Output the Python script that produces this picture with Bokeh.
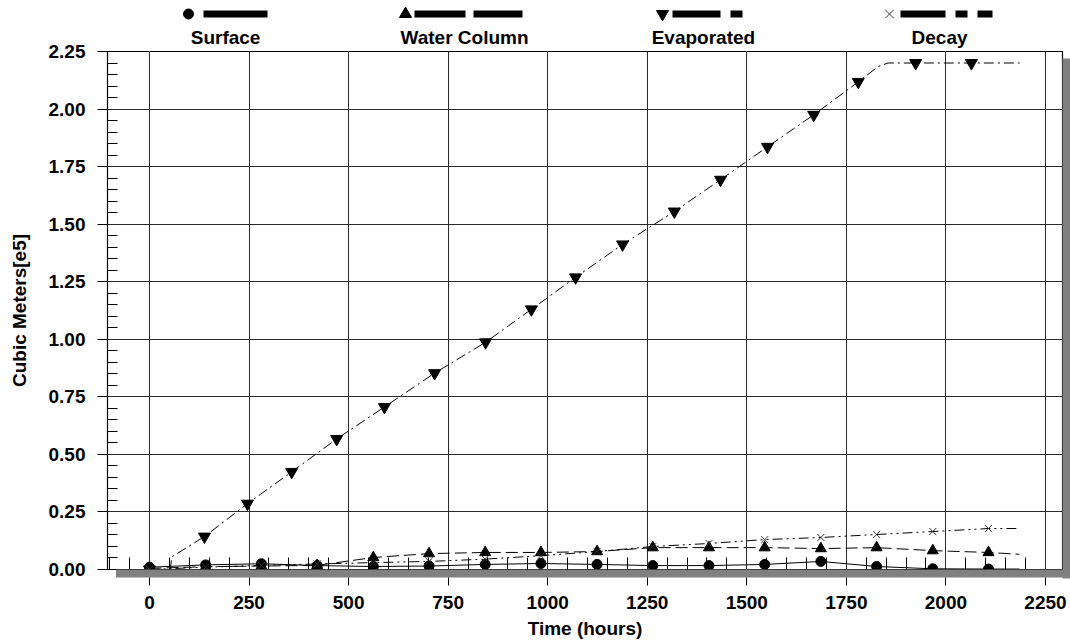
from bokeh.plotting import figure
from bokeh.layouts import column
from bokeh.models import (FixedTicker, Range1d, PrintfTickFormatter, LinearAxis, Grid)
from bokeh.embed import file_html
from bokeh.resources import INLINE

# ---------------- data ----------------
marker_t = [0, 141, 281, 421, 562, 702, 843, 983, 1124, 1264, 1405, 1545, 1686, 1826, 1967, 2107]
surface_v = [0.010, 0.020, 0.025, 0.017, 0.013, 0.015, 0.022, 0.026, 0.022, 0.017, 0.017, 0.022, 0.035, 0.013, 0.003, 0.002]
water_v = [0.005, 0.012, 0.015, 0.018, 0.052, 0.069, 0.074, 0.074, 0.078, 0.095, 0.095, 0.095, 0.091, 0.095, 0.082, 0.074]
decay_v = [0.000, 0.010, 0.018, 0.024, 0.030, 0.035, 0.045, 0.060, 0.078, 0.100, 0.113, 0.130, 0.139, 0.152, 0.165, 0.178]
end_t = 2185
surface_end = 0.002
water_end = 0.066
decay_end = 0.178

evap_t = [0, 138, 246, 357, 470, 590, 716, 844, 959, 1070, 1188, 1318, 1434, 1552, 1668, 1780, 1924, 2064]
evap_v = [0.0, 0.143, 0.286, 0.424, 0.567, 0.706, 0.853, 0.987, 1.130, 1.269, 1.412, 1.555, 1.693, 1.836, 1.975, 2.118, 2.200, 2.200]
evap_line_t = [0, 52, 56, 138, 246, 357, 470, 590, 716, 844, 959, 1070, 1188, 1318, 1434, 1552, 1668, 1780, 1830, 1855, 1924, 2064, 2185]
evap_line_v = [0.0, 0.0, 0.055, 0.143, 0.286, 0.424, 0.567, 0.706, 0.853, 0.987, 1.130, 1.269, 1.412, 1.555, 1.693, 1.836, 1.975, 2.118, 2.185, 2.200, 2.200, 2.200, 2.200]

x_ticks = [0, 250, 500, 750, 1000, 1250, 1500, 1750, 2000, 2250]
y_ticks = [0.0, 0.25, 0.5, 0.75, 1.0, 1.25, 1.5, 1.75, 2.0, 2.25]
legend_labels = ["Surface", "Water Column", "Evaporated", "Decay"]

FONT_NAME = "Liberation Sans"
FS = "19px"
SHADOW = "#808080"

# geometry (pixels)
W, H = 1070, 642
LEG_H = 23
FR_L, FR_R, FR_T, FR_B = 107, 1062, 49, 569
FR_W, FR_H = FR_R - FR_L, FR_B - FR_T

x0, x1 = -105.5, 2292.8
y0, y1 = 0.0, 2.25
px_x = FR_W / (x1 - x0)
px_y = FR_H / (y1 - y0)

# ---------------- legend strip: symbols and line samples (frame aligned with main frame) ----------------
leg = figure(width=W, height=LEG_H, x_range=Range1d(FR_L, FR_R), y_range=Range1d(LEG_H, 0),
             output_backend="svg", toolbar_location=None,
             min_border_left=FR_L, min_border_right=W - FR_R, min_border_top=0, min_border_bottom=0,
             x_axis_location=None, y_axis_location=None)
leg.grid.visible = False
leg.outline_line_color = None

leg.scatter([188], [13.5], marker="circle", size=10, color="black")
leg.scatter([405], [13.5], marker="triangle", size=12, color="black")
leg.scatter([662], [13.5], marker="inverted_triangle", size=12, color="black")
leg.scatter([889], [13.5], marker="x", size=12, line_color="#333333", line_width=1)
leg.segment(x0=[203, 414, 473, 672, 730, 900, 955, 977],
            y0=[13.5] * 8,
            x1=[267, 465, 522, 720, 742, 945, 967, 992],
            y1=[13.5] * 8, line_color="black", line_width=7, line_cap="butt")

# ---------------- main plot ----------------
p = figure(width=W, height=H - LEG_H, x_range=Range1d(x0, x1), y_range=Range1d(y0, y1),
           output_backend="svg", toolbar_location=None,
           x_axis_location=None, y_axis_location=None,
           min_border_left=FR_L, min_border_right=W - FR_R,
           min_border_top=FR_T - LEG_H, min_border_bottom=H - FR_B)
p.outline_line_color = "black"
p.outline_line_width = 1.2


def style_text(ax):
    ax.major_label_text_font = FONT_NAME
    ax.major_label_text_font_style = "bold"
    ax.major_label_text_font_size = FS
    ax.major_label_text_color = "black"
    ax.axis_label_text_font = FONT_NAME
    ax.axis_label_text_font_style = "bold"
    ax.axis_label_text_font_size = FS
    ax.axis_label_text_color = "black"


# legend names, written as labels of a tick-less axis above the frame
legend_px = [225, 464, 703, 939]
legend_pos = [int(round(x0 + (px - FR_L) / px_x)) for px in legend_px]
lax = LinearAxis(ticker=FixedTicker(ticks=legend_pos, minor_ticks=[]),
                 major_label_overrides={pos: lab for pos, lab in zip(legend_pos, legend_labels)})
style_text(lax)
lax.axis_line_color = None
lax.major_tick_line_color = None
lax.minor_tick_line_color = None
lax.major_tick_in = 0
lax.major_tick_out = 0
lax.minor_tick_in = 0
lax.minor_tick_out = 0
lax.major_label_standoff = 4
p.add_layout(lax, "above")

# y axis (left)
yax = LinearAxis(ticker=FixedTicker(ticks=y_ticks,
                                    minor_ticks=[round(i * 0.05, 2) for i in range(46) if i % 5 != 0]),
                 formatter=PrintfTickFormatter(format="%.2f"),
                 axis_label="Cubic Meters[e5]")
style_text(yax)
yax.axis_line_color = "black"
yax.major_tick_line_color = "black"
yax.minor_tick_line_color = "black"
yax.major_tick_in = 0
yax.major_tick_out = 10
yax.minor_tick_in = 10
yax.minor_tick_out = 0
yax.major_label_standoff = 12
yax.axis_label_standoff = 16
p.add_layout(yax, "left")

# bottom drop shadow band + inner minor ticks (first axis below the frame)
shadow_centre_x = x0 + (FR_W / 2 + 8) / px_x
xsh = LinearAxis(ticker=FixedTicker(ticks=[shadow_centre_x],
                                    minor_ticks=[t for t in range(-100, 2300, 50) if t % 250 != 0]),
                 formatter=PrintfTickFormatter(format=""))
xsh.axis_line_color = None
xsh.major_tick_in = 0
xsh.major_tick_out = 8
xsh.major_tick_line_color = SHADOW
xsh.major_tick_line_width = FR_W
xsh.major_tick_line_cap = "butt"
xsh.minor_tick_in = 12
xsh.minor_tick_out = 0
xsh.minor_tick_line_color = "black"
xsh.major_label_text_font_size = "0px"
xsh.major_label_standoff = 0
p.add_layout(xsh, "below")

# real x axis (labels)
xax = LinearAxis(ticker=FixedTicker(ticks=x_ticks, minor_ticks=[]), axis_label="Time (hours)")
style_text(xax)
xax.axis_line_color = None
xax.major_tick_in = 0
xax.major_tick_out = 8
xax.major_tick_line_color = "black"
xax.minor_tick_in = 0
xax.minor_tick_out = 0
xax.major_label_standoff = 10
xax.axis_label_standoff = 6
p.add_layout(xax, "below")

# right drop shadow band
shadow_centre_y = y0 + (FR_H / 2 - 8) / px_y
ysh = LinearAxis(ticker=FixedTicker(ticks=[shadow_centre_y], minor_ticks=[]),
                 formatter=PrintfTickFormatter(format=""))
ysh.axis_line_color = None
ysh.major_tick_in = 0
ysh.major_tick_out = 8
ysh.major_tick_line_color = SHADOW
ysh.major_tick_line_width = FR_H
ysh.major_tick_line_cap = "butt"
ysh.minor_tick_in = 0
ysh.minor_tick_out = 0
ysh.major_label_text_font_size = "0px"
ysh.major_label_standoff = 0
p.add_layout(ysh, "right")

# grid
p.add_layout(Grid(dimension=0, ticker=FixedTicker(ticks=x_ticks),
                  grid_line_color="#2a2a2a", grid_line_width=1))
p.add_layout(Grid(dimension=1, ticker=FixedTicker(ticks=y_ticks),
                  grid_line_color="#2a2a2a", grid_line_width=1))

# series
p.line(marker_t + [end_t], surface_v + [surface_end], line_color="black", line_width=1)
p.line(marker_t + [end_t], water_v + [water_end], line_color="black", line_width=1, line_dash="12 5")
p.line(evap_line_t, evap_line_v, line_color="black", line_width=1, line_dash="10 4 2 4")
p.line(marker_t + [end_t], decay_v + [decay_end], line_color="black", line_width=1, line_dash="10 4 2 4 2 4")

p.scatter(marker_t, surface_v, marker="circle", size=10, color="black")
p.scatter(marker_t, water_v, marker="triangle", size=11, color="black")
p.scatter(evap_t, evap_v, marker="inverted_triangle", size=12, color="black")
p.scatter(marker_t, decay_v, marker="x", size=10, line_color="#333333", line_width=1)

layout = column(leg, p, spacing=0)
open("out.html", "w").write(file_html(layout, INLINE))
